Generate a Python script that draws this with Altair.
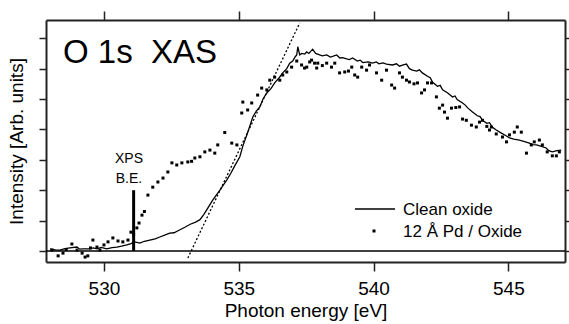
import altair as alt
import pandas as pd

# ---------------- data ----------------
clean_e = [528.0, 528.2, 528.37, 528.55, 528.74, 529.0, 529.1, 529.22, 529.48, 529.6,
           529.74, 529.9, 530.1, 530.3, 530.48, 530.65, 530.85, 531.0, 531.15, 531.33,
           531.5, 531.7, 531.9, 532.07, 532.25, 532.44, 532.6, 532.8, 533.0, 533.2,
           533.4, 533.56, 533.7, 533.85, 534.04, 534.2, 534.3, 534.45, 534.56, 534.7,
           534.85, 535.04, 535.15, 535.33, 535.52, 535.65, 535.78, 535.9, 536.04, 536.2,
           536.33, 536.5, 536.63, 536.78, 536.89, 537.0, 537.1, 537.15, 537.19, 537.26,
           537.33, 537.45, 537.52, 537.6, 537.74, 537.85, 538.0, 538.1, 538.26, 538.4,
           538.48, 538.63, 538.75, 538.85, 539.0, 539.1, 539.22, 539.4, 539.5, 539.6, 539.8,
           539.96, 540.1, 540.2, 540.35, 540.48, 540.7, 540.85, 540.96, 541.1, 541.22, 541.33,
           541.44, 541.6, 541.7, 541.81, 542.0, 542.1, 542.19, 542.37, 542.47, 542.56, 542.75,
           542.93, 543.02, 543.1, 543.3, 543.4, 543.5, 543.67, 543.85, 543.95, 544.04, 544.2,
           544.3, 544.4, 544.55, 544.74, 544.9, 545.04, 545.2, 545.41, 545.6, 545.78, 545.9,
           546.04, 546.2, 546.4, 546.5, 546.63, 546.8, 546.96]
clean_i = [0.07, 0.04, 0.03, 0.08, 0.10, 0.13, 0.06, 0.07, 0.07, 0.10,
           0.07, 0.12, 0.07, 0.11, 0.13, 0.16, 0.20, 0.24, 0.30, 0.26,
           0.32, 0.36, 0.40, 0.46, 0.52, 0.59, 0.60, 0.69, 0.78, 0.88,
           0.95, 1.03, 1.20, 1.41, 1.68, 1.88, 2.00, 2.20, 2.34, 2.55,
           2.80, 3.10, 3.45, 3.90, 4.41, 4.60, 4.74, 5.00, 5.20, 5.35,
           5.53, 5.70, 5.86, 6.00, 6.18, 6.25, 6.40, 6.45, 6.72, 6.45,
           6.50, 6.48, 6.55, 6.50, 6.64, 6.50, 6.45, 6.42, 6.45, 6.38,
           6.40, 6.45, 6.35, 6.36, 6.32, 6.30, 6.35, 6.25, 6.28, 6.20, 6.22,
           6.18, 6.22, 6.16, 6.19, 6.15, 6.12, 6.16, 6.08, 6.12, 6.15, 6.00,
           5.95, 5.92, 5.96, 5.86, 5.75, 5.70, 5.55, 5.42, 5.45, 5.30, 5.20,
           5.07, 5.10, 4.98, 4.87, 4.80, 4.70, 4.57, 4.45, 4.42, 4.30, 4.20,
           4.22, 4.08, 3.98, 3.88, 3.80, 3.72, 3.68, 3.65, 3.60, 3.55, 3.50,
           3.49, 3.45, 3.39, 3.30, 3.26, 3.30, 3.32]

pd_e = [528.07, 528.3, 528.48, 528.6, 528.81, 529.0, 529.19, 529.3, 529.4, 529.5,
        529.59, 529.74, 529.85, 530.0, 530.15, 530.33, 530.52, 530.7, 530.89, 531.0,
        531.1, 531.22, 531.3, 531.41, 531.5, 531.63, 531.81, 532.0, 532.19, 532.37,
        532.52, 532.7, 532.89, 533.11, 533.25, 533.37, 533.56, 533.74, 533.93, 534.11,
        534.22, 534.48, 534.74, 534.93, 535.11, 535.15, 535.33, 535.48, 535.7, 535.85,
        536.04, 536.15, 536.33, 536.52, 536.63, 536.78, 536.96, 537.15, 537.33, 537.44,
        537.52, 537.63, 537.7, 537.81, 537.89, 537.93, 538.1, 538.26, 538.44, 538.56,
        538.74, 538.93, 539.07, 539.19, 539.3, 539.41, 539.56, 539.74, 539.85, 540.11,
        540.3, 540.48, 540.67, 540.78, 540.96, 541.07, 541.22, 541.33, 541.5, 541.63,
        541.78, 541.89, 542.0, 542.15, 542.33, 542.44, 542.56, 542.63, 542.74, 542.89,
        543.05, 543.19, 543.3, 543.44, 543.63, 543.81, 543.93, 544.04, 544.2, 544.3,
        544.37, 544.55, 544.78, 544.93, 545.04, 545.22, 545.33, 545.48, 545.67, 545.85,
        545.96, 546.15, 546.26, 546.44, 546.63, 546.78, 546.89]
pd_i = [0.03, -0.16, -0.07, 0.05, 0.23, 0.03, -0.07, -0.20, -0.16, 0.10,
        0.36, 0.13, 0.03, 0.20, 0.30, 0.43, 0.33, 0.30, 0.36, 0.62,
        0.55, 0.76, 0.92, 1.18, 1.30, 1.84, 2.10, 2.27, 2.40, 2.60,
        2.90, 2.83, 2.90, 2.93, 2.95, 3.06, 3.10, 3.26, 3.32, 3.22,
        3.49, 3.90, 3.55, 3.49, 4.54, 4.90, 4.64, 4.87, 5.13, 5.36,
        5.30, 5.62, 5.72, 5.62, 5.79, 5.89, 6.05, 6.25, 6.12, 6.02,
        6.05, 6.22, 6.28, 6.18, 6.02, 6.18, 6.10, 6.18, 6.05, 6.18,
        5.86, 5.89, 5.92, 6.05, 5.79, 5.72, 6.05, 5.95, 6.12, 5.86,
        5.62, 5.95, 5.46, 5.36, 5.86, 5.72, 5.62, 5.56, 5.50, 5.53,
        5.20, 5.30, 5.53, 5.53, 5.07, 4.70, 4.80, 4.57, 4.37, 4.70,
        4.72, 4.74, 4.34, 4.30, 4.14, 4.08, 4.24, 4.30, 4.10, 3.98,
        4.08, 3.85, 3.75, 3.59, 3.82, 3.91, 4.08, 3.91, 3.22, 3.49,
        3.59, 3.65, 3.49, 3.26, 3.13, 3.13, 3.26]

xps_be = [531.1]
xps_height = [2.0]
tangent_e = [533.11, 537.26]
tangent_i = [-0.23, 7.5]

x_ticks = [530, 535, 540, 545]
y_ticks = [0, 1, 2, 3, 4, 5, 6, 7]
x_domain = [527.85, 547.1]
y_domain = [-0.362, 7.6]

FONT = "Liberation Sans"
INK = "#222222"

xs = alt.Scale(domain=x_domain, nice=False, zero=False)
ys = alt.Scale(domain=y_domain, nice=False, zero=False)

common_axis = dict(domainColor=INK, domainWidth=2, tickColor=INK, tickWidth=1.5,
                   grid=False)

ax_bottom = alt.Axis(orient="bottom", values=x_ticks, format="d", tickSize=9,
                     labelFont=FONT, labelFontSize=19, labelColor="black", labelPadding=8,
                     title="Photon energy [eV]", titleFont=FONT, titleFontSize=19,
                     titleFontWeight="normal", titleColor="black", titlePadding=3,
                     **common_axis)
ax_top = alt.Axis(orient="top", values=x_ticks, tickSize=9, labels=False, title=None,
                  **common_axis)
ax_left = alt.Axis(orient="left", values=y_ticks, tickSize=7, labels=False,
                   title="Intensity [Arb. units]", titleFont=FONT, titleFontSize=19,
                   titleFontWeight="normal", titleColor="black", titlePadding=12,
                   **common_axis)
ax_right = alt.Axis(orient="right", values=y_ticks, tickSize=5, labels=False, title=None,
                    **common_axis)

clean_df = pd.DataFrame({"E": clean_e, "I": clean_i})
pd_df = pd.DataFrame({"E": pd_e, "I": pd_i})

clean = alt.Chart(clean_df).mark_line(color="black", strokeWidth=1.3).encode(
    x=alt.X("E:Q", scale=xs, axis=ax_bottom),
    y=alt.Y("I:Q", scale=ys, axis=ax_left),
)

dots = alt.Chart(pd_df).mark_square(color="black", size=9, opacity=1).encode(
    x=alt.X("E:Q", scale=xs, axis=ax_top),
    y=alt.Y("I:Q", scale=ys, axis=ax_right),
)

zero = alt.Chart(pd.DataFrame({"I": [0]})).mark_rule(color="black", strokeWidth=1.5).encode(
    y=alt.Y("I:Q", scale=ys, axis=None),
)

xps = alt.Chart(pd.DataFrame({"E": xps_be, "I0": [0], "I1": xps_height})).mark_rule(
    color="black", strokeWidth=3).encode(
    x=alt.X("E:Q", scale=xs, axis=None),
    y=alt.Y("I0:Q", scale=ys, axis=None),
    y2="I1:Q",
)

tangent = alt.Chart(pd.DataFrame({"E": tangent_e, "I": tangent_i})).mark_line(
    color="black", strokeWidth=1.3, strokeDash=[2, 2]).encode(
    x=alt.X("E:Q", scale=xs, axis=None),
    y=alt.Y("I:Q", scale=ys, axis=None),
)

def label(txt, x, y, size, align="left"):
    return alt.Chart(pd.DataFrame({"t": [txt]})).mark_text(
        font=FONT, fontSize=size, color="black", align=align, baseline="alphabetic"
    ).encode(text="t:N", x=alt.value(x), y=alt.value(y))

title = label("O 1s\u00a0 XAS", 17, 43, 33)
xps_t1 = label("XPS", 83, 143, 14, "center")
xps_t2 = label("B.E.", 83, 163, 14, "center")

leg_line = alt.Chart(pd.DataFrame({"a": [0]})).mark_rule(color="black", strokeWidth=1.3).encode(
    x=alt.value(309), x2=alt.value(349), y=alt.value(189))
leg_dot = alt.Chart(pd.DataFrame({"a": [0]})).mark_square(color="black", size=9, opacity=1).encode(
    x=alt.value(328), y=alt.value(211))
leg_t1 = label("Clean oxide", 357, 195, 17)
leg_t2 = label("12 Å Pd / Oxide", 357, 217, 17)

chart = alt.layer(
    zero, tangent, clean, dots, xps, title, xps_t1, xps_t2,
    leg_line, leg_dot, leg_t1, leg_t2
).resolve_axis(x="independent", y="independent").properties(
    width=519, height=242,
    padding={"left": 46, "top": 20, "right": 4, "bottom": 62},
    autosize=alt.AutoSizeParams(type="none"),
    background="white",
).configure_view(stroke=None)

chart.save("out.html", embed_options={"renderer": "svg", "actions": False})
